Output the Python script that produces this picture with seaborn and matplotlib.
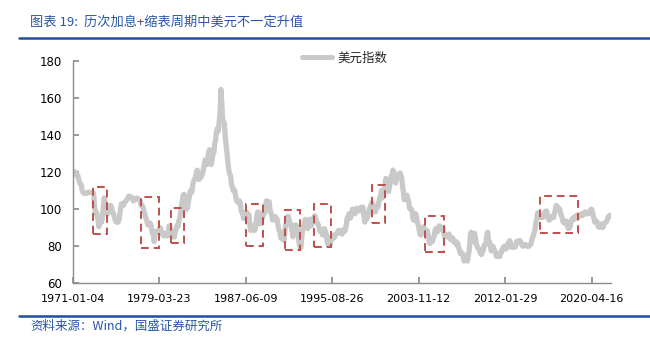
import numpy as np
import pandas as pd
import matplotlib
matplotlib.use("Agg")
import matplotlib.pyplot as plt
import matplotlib.dates as mdates
from matplotlib.patches import Rectangle
import seaborn as sns

# ---- data: monthly US dollar index (approx.), Jan 1971 .. Feb 2022 ----
y1971 = [120.5,120.4,120.2,120.0,118.5,118.3,118.0,116.0,114.5,113.5,112.8,110.0]
y1972 = [109.0,108.5,108.4,108.6,108.5,108.7,109.1,109.0,109.0,109.0,108.8,108.9]
y1973 = [108.5,101.0,98.0,98.5,97.0,94.0,90.5,93.5,94.0,93.0,95.5,100.5]
y1974 = [106.0,104.0,101.5,99.5,97.5,99.5,100.0,102.0,101.5,99.5,98.0,97.0]
y1975 = [95.0,93.5,93.0,94.0,93.0,94.5,98.0,101.0,103.0,102.0,102.0,103.5]
y1976 = [104.0,104.5,105.0,106.0,107.0,106.5,106.5,106.5,106.0,104.5,105.0,105.0]
y1977 = [105.5,106.0,105.5,105.5,105.0,104.5,102.0,102.0,101.5,99.5,98.0,96.0]
y1978 = [94.5,93.0,91.5,92.0,92.5,92.0,89.5,87.0,86.5,82.5,87.5,88.0]
y1979 = [87.5,87.5,88.0,89.5,90.0,89.0,86.5,86.5,85.5,87.0,87.0,86.0]
y1980 = [85.5,86.5,91.0,90.5,87.0,85.5,85.0,86.0,85.0,87.5,89.5,91.0]
y1981 = [90.5,93.5,95.0,97.5,101.5,104.0,107.5,108.0,104.0,102.0,100.0,101.0]
y1982 = [104.0,107.0,109.5,110.0,109.0,113.5,115.0,116.0,117.0,119.5,121.0,116.5]
y1983 = [116.0,117.5,117.0,118.0,119.0,121.5,123.5,126.5,126.0,124.0,127.0,130.5]
y1984 = [132.0,128.0,124.0,126.5,130.5,130.5,135.5,137.0,142.0,143.5,142.0,147.0]
y1985 = [152.0,164.5,158.0,148.0,147.5,146.0,139.0,134.0,130.0,125.0,121.0,119.0]
y1986 = [118.0,113.5,112.0,110.0,110.5,109.5,106.5,104.5,104.0,103.5,104.5,103.5]
y1987 = [99.5,98.0,97.5,95.0,95.0,97.0,98.5,98.0,97.0,97.0,91.5,88.5]
y1988 = [90.0,91.0,89.0,88.5,89.0,92.5,96.5,98.5,98.0,95.5,92.0,92.5]
y1989 = [95.5,96.0,98.5,98.0,102.0,104.5,100.5,102.5,104.0,99.5,98.0,96.5]
y1990 = [94.0,94.5,96.0,96.0,94.0,94.5,91.5,89.0,88.0,85.0,84.0,85.0]
y1991 = [84.5,83.0,88.5,92.0,92.5,96.0,96.0,94.0,91.5,91.5,88.0,85.0]
y1992 = [86.5,89.5,91.5,91.0,89.0,86.5,82.0,80.0,79.0,84.0,89.0,90.0]
y1993 = [92.5,94.5,93.5,90.5,89.5,91.0,94.5,93.0,91.0,93.0,95.0,95.5]
y1994 = [96.5,95.0,93.0,92.5,91.5,90.0,88.0,88.5,88.0,86.0,87.5,89.5]
y1995 = [88.0,86.5,83.0,81.0,82.5,82.0,81.5,85.0,86.0,84.5,84.5,85.5]
y1996 = [86.5,87.0,87.0,88.5,88.5,88.5,87.0,86.5,87.5,89.0,88.0,89.0]
y1997 = [92.0,95.5,95.5,97.5,95.0,95.5,98.0,100.0,98.5,98.0,97.5,99.5]
y1998 = [100.5,99.5,100.0,99.0,99.5,101.0,101.0,101.0,96.0,93.0,95.5,94.5]
y1999 = [95.5,97.5,99.5,101.0,102.0,103.5,103.0,101.0,99.0,98.5,100.5,101.5]
y2000 = [101.0,104.0,106.0,107.0,110.0,106.0,107.0,109.5,113.5,116.5,116.0,111.0]
y2001 = [109.5,112.0,115.0,117.5,118.0,121.0,120.0,116.0,114.0,116.5,117.0,117.0]
y2002 = [119.0,119.5,118.5,117.0,112.5,109.0,105.0,106.5,107.0,107.5,105.5,104.0]
y2003 = [100.5,100.0,100.0,99.0,94.5,94.0,96.0,97.5,95.5,92.5,91.5,88.5]
y2004 = [86.5,86.0,88.5,89.5,90.5,88.5,87.5,88.5,88.5,86.5,83.0,81.5]
y2005 = [83.0,83.5,82.5,84.0,85.5,88.5,89.5,87.5,88.0,89.5,91.0,90.5]
y2006 = [89.0,90.0,90.0,87.0,85.0,86.0,85.5,85.0,85.5,86.5,84.5,83.5]
y2007 = [84.5,84.5,83.5,82.0,82.0,82.5,80.5,81.5,79.5,77.5,76.0,76.5]
y2008 = [76.0,75.5,72.0,72.5,73.0,73.0,72.0,75.5,78.0,84.0,87.5,82.5]
y2009 = [84.0,87.0,87.0,85.0,81.0,80.0,79.0,78.5,77.0,76.0,75.5,77.0]
y2010 = [78.0,80.5,80.5,81.0,86.0,87.5,83.0,82.5,81.0,77.5,78.5,80.0]
y2011 = [78.5,77.5,76.5,74.5,75.0,74.5,74.5,74.5,77.0,77.0,78.5,79.5]
y2012 = [80.0,78.5,79.5,79.0,81.5,82.0,83.0,82.0,79.5,79.5,80.0,79.5]
y2013 = [79.5,80.5,82.5,82.5,83.0,82.0,83.0,81.5,81.0,80.0,80.7,80.5]
y2014 = [80.9,80.5,80.0,79.8,80.0,80.5,81.0,82.5,84.5,85.5,87.5,89.0]
y2015 = [93.0,94.5,98.0,97.5,95.5,95.5,96.5,95.5,95.5,96.0,98.5,98.5]
y2016 = [99.0,97.0,95.5,94.0,94.5,95.0,96.0,95.5,95.5,97.5,99.5,102.0]
y2017 = [101.0,101.0,100.5,100.0,98.0,96.5,95.0,93.0,92.5,93.5,93.5,93.5]
y2018 = [90.5,89.5,89.8,90.5,93.0,94.5,94.5,95.5,94.5,96.0,96.5,96.5]
y2019 = [95.5,96.5,96.5,97.0,97.5,96.5,97.0,98.0,98.5,97.5,98.0,97.5]
y2020 = [97.5,98.5,99.5,100.0,99.5,97.0,95.0,93.0,93.5,93.5,92.5,90.5]
y2021 = [90.2,90.5,92.0,91.5,90.0,91.0,92.5,92.8,93.0,93.8,95.5,96.2]
y2022 = [96.0,96.8]

dxy_values = (y1971 + y1972 + y1973 + y1974 + y1975 + y1976 + y1977 + y1978 +
              y1979 + y1980 + y1981 + y1982 + y1983 + y1984 + y1985 + y1986 +
              y1987 + y1988 + y1989 + y1990 + y1991 + y1992 + y1993 + y1994 +
              y1995 + y1996 + y1997 + y1998 + y1999 + y2000 + y2001 + y2002 +
              y2003 + y2004 + y2005 + y2006 + y2007 + y2008 + y2009 + y2010 +
              y2011 + y2012 + y2013 + y2014 + y2015 + y2016 + y2017 + y2018 +
              y2019 + y2020 + y2021 + y2022)

# rate-hike + balance-sheet-reduction periods (highlight boxes)
box_start = ["1972-11-28", "1977-07-15", "1980-05-10", "1987-06-09", "1991-03-20",
             "1993-12-15", "1999-06-10", "2004-06-10", "2015-05-20"]
box_end   = ["1974-03-28", "1979-03-23", "1981-08-10", "1989-02-10", "1992-08-10",
             "1995-07-20", "2000-09-01", "2006-04-20", "2019-01-10"]
box_low   = [86.4, 78.9, 81.6, 80.3, 78.0, 79.7, 92.3, 77.0, 87.0]
box_high  = [112.1, 106.4, 100.8, 102.6, 99.5, 102.6, 113.0, 96.4, 107.2]

tick_labels = ["1971-01-04", "1979-03-23", "1987-06-09", "1995-08-26",
               "2003-11-12", "2012-01-29", "2020-04-16"]
y_ticks = [60, 80, 100, 120, 140, 160, 180]

title_text = "图表 19:  历次加息+缩表周期中美元不一定升值"
source_text = "资料来源：Wind，国盛证券研究所"
series_name = "美元指数"

# ---- build frame ----
dates = pd.date_range("1971-01-01", periods=len(dxy_values), freq="MS")
dates = dates.where(dates != pd.Timestamp("1971-01-01"), pd.Timestamp("1971-01-04"))
df = pd.DataFrame({"date": dates, series_name: dxy_values})

sns.set_theme(style="white")
plt.rcParams["font.family"] = ["DejaVu Sans", "Noto Sans CJK SC"]

fig = plt.figure(figsize=(6.5, 3.38), dpi=100)
ax = fig.add_axes([0.1118, 0.1618, 0.8277, 0.6586])

sns.lineplot(data=df, x="date", y=series_name, ax=ax, color="#c9c9c9",
             linewidth=3.8, label=series_name, legend=False)

for s, e, lo, hi in zip(box_start, box_end, box_low, box_high):
    x0 = mdates.date2num(pd.Timestamp(s))
    x1 = mdates.date2num(pd.Timestamp(e))
    ax.add_patch(Rectangle((x0, lo), x1 - x0, hi - lo, fill=False,
                           edgecolor="#c0504d", linestyle=(0, (4, 2.5)),
                           linewidth=1.4, zorder=5))

ax.set_xlim(pd.Timestamp("1971-01-04"), pd.Timestamp("2022-02-04"))
ax.set_ylim(60, 180)
ax.set_xticks([pd.Timestamp(t) for t in tick_labels])
ax.set_xticklabels(tick_labels)
ax.set_yticks(y_ticks)
ax.set_xlabel("")
ax.set_ylabel("")

for side in ["top", "right"]:
    ax.spines[side].set_visible(False)
for side in ["left", "bottom"]:
    ax.spines[side].set_color("#8c8c8c")
    ax.spines[side].set_linewidth(1.0)

ax.tick_params(axis="x", direction="in", length=4, color="#8c8c8c",
               labelsize=8, pad=8, labelcolor="black", bottom=True)
ax.tick_params(axis="y", direction="in", length=4, color="#8c8c8c",
               labelsize=8.5, pad=8, labelcolor="black", left=True)

# legend
leg_handles = [plt.Line2D([0], [0], color="#c9c9c9", linewidth=3.6)]
fig.legend(leg_handles, [series_name], loc="center", bbox_to_anchor=(0.53, 1 - 58 / 338),
           frameon=False, handlelength=2.4, handletextpad=0.4,
           prop={"family": "Noto Sans CJK SC", "size": 9})

# title and source
blue = "#2a56a5"
fig.text(30 / 650, 1 - 22 / 338, title_text, color=blue, fontsize=9.5,
         family=["Noto Sans CJK SC", "DejaVu Sans"], style="italic",
         ha="left", va="center")
fig.add_artist(plt.Line2D([19 / 650, 1.0], [1 - 37.5 / 338, 1 - 37.5 / 338],
                          color="#1f4e9a", linewidth=1.8))
fig.add_artist(plt.Line2D([19 / 650, 1.0], [1 - 316 / 338, 1 - 316 / 338],
                          color="#1f4e9a", linewidth=1.8))
fig.text(30 / 650, 1 - 326 / 338, source_text, color=blue, fontsize=9,
         family=["Noto Sans CJK SC", "DejaVu Sans"], style="italic",
         ha="left", va="center")

fig.savefig("out.png", dpi=100)
